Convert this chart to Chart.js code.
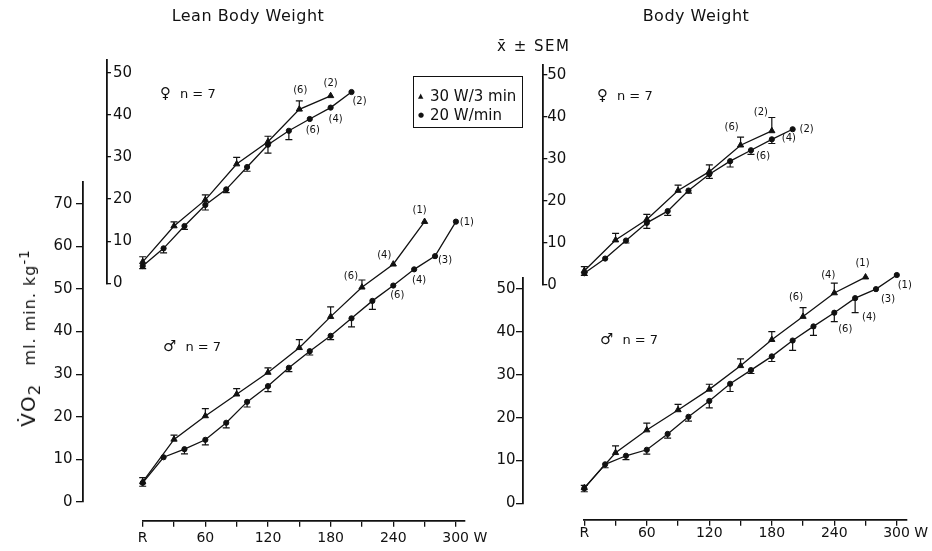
<!DOCTYPE html>
<html>
<head>
<meta charset="utf-8">
<script src="https://cdn.jsdelivr.net/npm/chart.js@4.4.1/dist/chart.umd.min.js"></script>
<style>
  body { margin: 0; background: #fff; }
  #wrap { position: relative; width: 932px; height: 551px; font-family: 'DejaVu Sans', sans-serif; color: #111; overflow: hidden; }
  #wrap canvas { position: absolute; left: 0; top: 0; }
  .t { position: absolute; white-space: nowrap; line-height: 1; }
  .title { font-size: 16px; transform: translateX(-50%); letter-spacing: 0.5px; }
  .grp { font-size: 13px; }
  .grp b { font-weight: normal; font-size: 15px; margin-right: 9px; }
  #legend { position: absolute; left: 413px; top: 76px; width: 110px; height: 52px; box-sizing: border-box;
            border: 1.5px solid #111; font-size: 15px; }
  #legend div { position: absolute; left: 4px; white-space: nowrap; line-height: 1; }
  #legend span { display: inline-block; width: 12px; font-size: 7px; vertical-align: middle; }
  #ylab { position: absolute; left: 30px; top: 338px; transform: translate(-50%, -50%) rotate(-90deg);
          white-space: nowrap; font-size: 16px; letter-spacing: 1px; }
  #ylab .v { font-size: 20px; }
</style>
</head>
<body>
<div id="wrap">
  <canvas id="leanMale" width="932" height="551"></canvas>
  <canvas id="leanFemale" width="932" height="551"></canvas>
  <canvas id="bodyMale" width="932" height="551"></canvas>
  <canvas id="bodyFemale" width="932" height="551"></canvas>

  <div class="t title" style="left:248px; top:8px;">Lean Body Weight</div>
  <div class="t title" style="left:696px; top:8px;">Body Weight</div>
  <div class="t" style="left:497px; top:39px; font-size:15px; letter-spacing:1.5px;">x̄ ± SEM</div>

  <div id="legend">
    <div style="top:12px;"><span>▲</span>30 W/3 min</div>
    <div style="top:31px;"><span>●</span>20 W/min</div>
  </div>

  <div class="t grp" style="left:160px; top:86px;"><b>♀</b>n = 7</div>
  <div class="t grp" style="left:597px; top:88px;"><b>♀</b>n = 7</div>
  <div class="t grp" style="left:163px; top:339px;"><b>♂</b>n = 7</div>
  <div class="t grp" style="left:600px; top:332px;"><b>♂</b>n = 7</div>

  <div id="ylab"><span class="v">V̇O<sub>2</sub></span>&nbsp;&nbsp; ml. min. kg<sup>-1</sup></div>
</div>

<script>
Chart.defaults.font.family = "'DejaVu Sans', sans-serif";
Chart.defaults.color = '#111';

// work load (W), R = rest = 0
const triW = [0, 30, 60, 90, 120, 150, 180, 210, 240, 270];
const cirW = [0, 20, 40, 60, 80, 100, 120, 140, 160, 180, 200, 220, 240, 260, 280, 300];

//* Lean body weight - women
const lfTri = [5.1, 13.6, 19.8, 28.3, 33.6, 41.3, 44.5];
const lfTriSem = [1.2, 1.0, 1.2, 1.6, 1.3, 2.0, 0];
const lfTriN = ['', '', '', '', '', '(6)', '(2)'];
const lfCir = [4.1, 8.3, 13.6, 18.6, 22.3, 27.6, 32.9, 36.2, 39.0, 41.7, 45.4];
const lfCirSem = [0.6, 1.1, 0.8, 1.2, 0.8, 1.0, 2.0, 2.1, 0, 0, 0];
const lfCirN = ['', '', '', '', '', '', '', '', '(6)', '(4)', '(2)'];

//* Lean body weight - men
const lmTri = [4.7, 14.7, 20.2, 25.3, 30.4, 36.2, 43.5, 50.4, 55.8, 65.8];
const lmTriSem = [1.0, 1.0, 1.7, 1.3, 1.1, 1.9, 2.3, 1.7, 0, 0];
const lmTriN = ['', '', '', '', '', '', '', '(6)', '(4)', '(1)'];
const lmCir = [4.5, 10.5, 12.4, 14.6, 18.6, 23.5, 27.2, 31.5, 35.4, 39.0, 43.1, 47.2, 50.8, 54.6, 57.7, 65.8];
const lmCirSem = [0.8, 0, 1.1, 1.2, 1.2, 1.2, 1.3, 0.9, 0.9, 0.9, 2.0, 2.0, 0, 0, 0, 0];
const lmCirN = ['', '', '', '', '', '', '', '', '', '', '', '', '(6)', '(4)', '(3)', '(1)'];

//* Body weight - women
const bfTri = [3.4, 10.7, 15.6, 22.5, 27.0, 33.3, 36.7];
const bfTriSem = [1.0, 1.6, 1.2, 1.3, 1.6, 1.9, 3.2];
const bfTriN = ['', '', '', '', '', '(6)', '(2)'];
const bfCir = [2.8, 6.3, 10.6, 14.8, 17.6, 22.5, 26.4, 29.5, 32.1, 34.7, 37.1];
const bfCirSem = [0.5, 0, 0.6, 1.3, 1.0, 0.6, 1.0, 1.4, 1.0, 1.0, 0];
const bfCirN = ['', '', '', '', '', '', '', '', '(6)', '(4)', '(2)'];

//* Body weight - men
const bmTri = [3.6, 11.8, 17.1, 21.8, 26.6, 32.1, 38.2, 43.6, 49.1, 52.8];
const bmTriSem = [0.6, 1.6, 1.6, 1.3, 1.2, 1.6, 1.9, 2.1, 2.3, 0];
const bmTriN = ['', '', '', '', '', '', '', '(6)', '(4)', '(1)'];
const bmCir = [3.5, 9.1, 11.1, 12.5, 16.2, 20.2, 23.9, 27.9, 31.1, 34.3, 38.0, 41.3, 44.5, 47.9, 50.0, 53.3];
const bmCirSem = [0.8, 0.8, 0.9, 1.0, 1.0, 1.0, 1.6, 1.8, 0.8, 1.2, 2.3, 2.1, 2.1, 3.4, 0, 0];
const bmCirN = ['', '', '', '', '', '', '', '', '', '', '', '', '(6)', '(4)', '(3)', '(1)'];

// where the (n) labels sit, relative to their point, in px
const nOffset = {
  lfTri: { 5: [1, -19], 6: [0, -12] },
  lfCir: { 8: [3, 11], 9: [5, 12], 10: [8, 9] },
  lmTri: { 7: [-11, -11], 8: [-9, -9], 9: [-5, -11] },
  lmCir: { 12: [4, 10], 13: [5, 11], 14: [10, 4], 15: [11, 1] },
  bfTri: { 5: [-9, -18], 6: [-11, -19] },
  bfCir: { 8: [12, 6], 9: [17, -1], 10: [14, 0] },
  bmTri: { 7: [-7, -19], 8: [-6, -18], 9: [-3, -14] },
  bmCir: { 12: [11, 17], 13: [14, 19], 14: [12, 10], 15: [8, 10] }
};

function series(xs, ys, sem, dir, n, off, style) {
  return {
    data: ys.map((y, i) => ({ x: xs[i], y })),
    sem, dir, nLabels: n, nOff: off,
    pointStyle: style,
    pointRadius: style === 'triangle' ? 3.6 : 2.6,
    pointBorderWidth: 1,
    borderColor: '#111',
    backgroundColor: '#111',
    borderWidth: 1.3,
    tension: 0,
    clip: false
  };
}

// SEM bars (up for 30W/3min, down for 20W/min) and subject counts
const errorBars = {
  id: 'errorBars',
  afterDatasetsDraw(chart) {
    const ctx = chart.ctx;
    const yScale = chart.scales.y;
    chart.data.datasets.forEach((ds, di) => {
      const meta = chart.getDatasetMeta(di);
      ctx.save();
      ctx.strokeStyle = '#111';
      ctx.lineWidth = 1.2;
      ds.sem.forEach((s, i) => {
        if (!s) return;
        const p = meta.data[i];
        const yEnd = yScale.getPixelForValue(ds.data[i].y + ds.dir * s);
        ctx.beginPath();
        ctx.moveTo(p.x, p.y);
        ctx.lineTo(p.x, yEnd);
        ctx.moveTo(p.x - 3.5, yEnd);
        ctx.lineTo(p.x + 3.5, yEnd);
        ctx.stroke();
      });
      ctx.fillStyle = '#111';
      ctx.font = "10px 'DejaVu Sans', sans-serif";
      ctx.textAlign = 'center';
      ctx.textBaseline = 'middle';
      ds.nLabels.forEach((t, i) => {
        if (!t) return;
        const p = meta.data[i];
        const o = ds.nOff[i];
        ctx.fillText(t, p.x + o[0], p.y + o[1]);
      });
      ctx.restore();
    });
  }
};

function xLabel(v) {
  if (v === 0) return 'R';
  if (v === 300) return '    300 W';
  return v % 60 === 0 ? String(v) : '';
}

// men: axes float free of each other, as in the print
// (floating y labels are right-aligned on the axis line, so a trailing gap keeps them off it)
function maleOptions(xMax, yMax, yAxisAt, xAxisAt, pad, xLabelPad, yGap) {
  return {
    responsive: false,
    animation: false,
    events: [],
    layout: { padding: pad },
    plugins: { legend: { display: false }, tooltip: { enabled: false } },
    scales: {
      x: {
        type: 'linear', min: 0, max: xMax, position: { y: xAxisAt },
        border: { color: '#111', width: 1.8 },
        grid: { drawOnChartArea: false, tickLength: 5, color: '#111', lineWidth: 1.3 },
        ticks: { stepSize: 30, includeBounds: false, autoSkip: false, maxRotation: 0, padding: xLabelPad,
                 font: { size: 14 }, callback: xLabel }
      },
      y: {
        type: 'linear', min: 0, max: yMax, position: { x: yAxisAt },
        border: { color: '#111', width: 1.8 },
        grid: { drawOnChartArea: false, tickLength: 6, color: '#111', lineWidth: 1.3 },
        ticks: { stepSize: 10, includeBounds: false, font: { size: 15 }, callback: (v) => v + yGap }
      }
    }
  };
}

// women: inset axis with labels on the inner side
function femaleOptions(xMin, xMax, yMax, pad, labelPad) {
  return {
    responsive: false,
    animation: false,
    events: [],
    layout: { padding: pad },
    plugins: { legend: { display: false }, tooltip: { enabled: false } },
    scales: {
      x: { type: 'linear', min: xMin, max: xMax, display: false },
      y: {
        type: 'linear', min: 0, max: yMax, position: 'left',
        afterFit: (s) => { s.width = 20; },
        border: { color: '#111', width: 1.8 },
        grid: { drawOnChartArea: false, tickLength: -4, color: '#111', lineWidth: 1.3 },
        ticks: { mirror: true, stepSize: 10, includeBounds: false, padding: labelPad, font: { size: 15 } }
      }
    }
  };
}

new Chart(document.getElementById('leanMale'), {
  type: 'line',
  data: { datasets: [
    series(triW, lmTri, lmTriSem, 1, lmTriN, nOffset.lmTri, 'triangle'),
    series(cirW, lmCir, lmCirSem, -1, lmCirN, nOffset.lmCir, 'circle')
  ] },
  options: maleOptions(308.7, 75.1, -57.2, -4.46, { left: 142.7, right: 467, top: 182, bottom: 49 }, 4, '\u2002\u2009'),
  plugins: [errorBars]
});

new Chart(document.getElementById('leanFemale'), {
  type: 'line',
  data: { datasets: [
    series(triW, lfTri, lfTriSem, 1, lfTriN, nOffset.lfTri, 'triangle'),
    series(cirW, lfCir, lfCirSem, -1, lfCirN, nOffset.lfCir, 'circle')
  ] },
  options: femaleOptions(-34.2, 313.5, 53.0, { left: 87, right: 462, top: 60, bottom: 267.7 }, 6),
  plugins: [errorBars]
});

new Chart(document.getElementById('bodyMale'), {
  type: 'line',
  data: { datasets: [
    series(triW, bmTri, bmTriSem, 1, bmTriN, nOffset.bmTri, 'triangle'),
    series(cirW, bmCir, bmCirSem, -1, bmCirN, nOffset.bmCir, 'circle')
  ] },
  options: maleOptions(309.5, 52.6, -58.8, -3.9, { left: 584.3, right: 25.3, top: 278, bottom: 47.7 }, 0, '\u2002'),
  plugins: [errorBars]
});

new Chart(document.getElementById('bodyFemale'), {
  type: 'line',
  data: { datasets: [
    series(triW, bfTri, bfTriSem, 1, bfTriN, nOffset.bfTri, 'triangle'),
    series(cirW, bfCir, bfCirSem, -1, bfCirN, nOffset.bfCir, 'circle')
  ] },
  options: femaleOptions(-39.4, 309.5, 52.4, { left: 523.3, right: 25.3, top: 65, bottom: 266 }, 4),
  plugins: [errorBars]
});
</script>
</body>
</html>
